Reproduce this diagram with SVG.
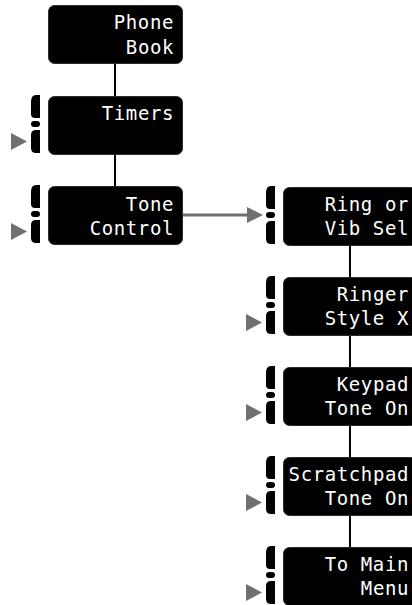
<svg xmlns="http://www.w3.org/2000/svg" xmlns:xlink="http://www.w3.org/1999/xlink" width="412" height="605" viewBox="0 0 412 605">
<style>
.box{fill:#000;stroke:#2a2a2a;stroke-width:1}
.br{fill:#000}
.tri{fill:#707070}
.t{font-family:"DejaVu Sans Mono","Liberation Mono",monospace;font-size:19px;fill:#fff;text-anchor:end;letter-spacing:0.6px}
.v{stroke:#000;stroke-width:2;fill:none}
.h{stroke:#707070;stroke-width:3;fill:none}
</style>
<defs>
<g id="brk">
<path class="br" d="M-8,-1 L-12,-1 Q-17,-1 -17,6 L-17,18 Q-17,22 -13,22 L-8,22 Z"/>
<rect class="br" x="-17" y="25" width="9" height="6" rx="3"/>
<path class="br" d="M-8,34 L-12,34 Q-17,34 -17,39 L-17,52 Q-17,57 -12,57 L-8,57 Z"/>
</g>
<polygon id="tr" class="tri" points="-37,37 -21,45.5 -37,54"/>
</defs>
<g id="connectors">
<line class="v" x1="115" y1="63" x2="115" y2="96"/>
<line class="v" x1="115" y1="154" x2="115" y2="186"/>
<line class="h" x1="182" y1="215" x2="250" y2="215"/>
<polygon class="tri" points="247,207 263,215 247,223"/>
<line class="v" x1="350" y1="244" x2="350" y2="277"/>
<line class="v" x1="350" y1="334" x2="350" y2="367"/>
<line class="v" x1="350" y1="424" x2="350" y2="457"/>
<line class="v" x1="350" y1="514" x2="350" y2="547"/>
</g>
<g id="phone-book">
<rect class="box" x="48.5" y="5.5" width="134" height="58" rx="6"/>
<text class="t" x="174" y="29">Phone</text>
<text class="t" x="174" y="54">Book</text>
</g>
<g id="timers">
<use xlink:href="#brk" x="48" y="96"/>
<use xlink:href="#tr" x="48" y="96"/>
<rect class="box" x="48.5" y="96.5" width="134" height="58" rx="6"/>
<text class="t" x="174" y="120">Timers</text>
</g>
<g id="tone-control">
<use xlink:href="#brk" x="48" y="186"/>
<use xlink:href="#tr" x="48" y="186"/>
<rect class="box" x="48.5" y="186.5" width="134" height="58" rx="6"/>
<text class="t" x="174" y="211">Tone</text>
<text class="t" x="174" y="235">Control</text>
</g>
<g id="ring-or-vib-sel">
<use xlink:href="#brk" x="283" y="187"/>
<rect class="box" x="283.5" y="187.5" width="134" height="58" rx="6"/>
<text class="t" x="409" y="211">Ring or</text>
<text class="t" x="409" y="235">Vib Sel</text>
</g>
<g id="ringer-style">
<use xlink:href="#brk" x="283" y="277"/>
<use xlink:href="#tr" x="283" y="277"/>
<rect class="box" x="283.5" y="277.5" width="134" height="58" rx="6"/>
<text class="t" x="409" y="301">Ringer</text>
<text class="t" x="409" y="325">Style X</text>
</g>
<g id="keypad-tone">
<use xlink:href="#brk" x="283" y="367"/>
<use xlink:href="#tr" x="283" y="367"/>
<rect class="box" x="283.5" y="367.5" width="134" height="58" rx="6"/>
<text class="t" x="409" y="391">Keypad</text>
<text class="t" x="409" y="415">Tone On</text>
</g>
<g id="scratchpad-tone">
<use xlink:href="#brk" x="283" y="457"/>
<use xlink:href="#tr" x="283" y="457"/>
<rect class="box" x="283.5" y="457.5" width="134" height="58" rx="6"/>
<text class="t" x="409" y="481">Scratchpad</text>
<text class="t" x="409" y="505">Tone On</text>
</g>
<g id="to-main-menu">
<use xlink:href="#brk" x="283" y="547"/>
<use xlink:href="#tr" x="283" y="547"/>
<rect class="box" x="283.5" y="547.5" width="134" height="58" rx="6"/>
<text class="t" x="409" y="571">To Main</text>
<text class="t" x="409" y="595">Menu</text>
</g>
</svg>
